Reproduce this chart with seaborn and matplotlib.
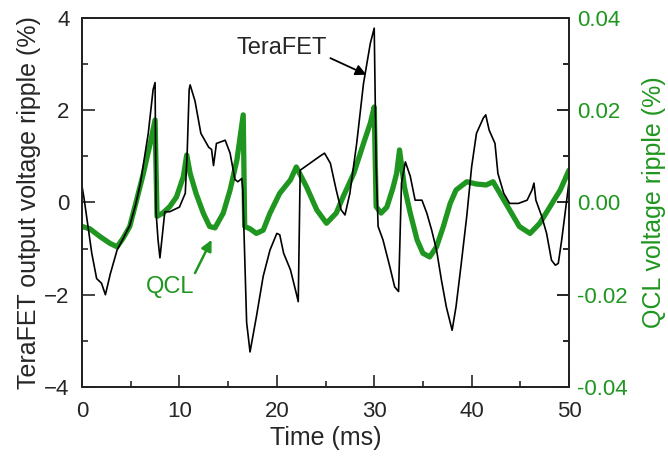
import numpy as np
import pandas as pd
import seaborn as sns
import matplotlib
matplotlib.use("Agg")
import matplotlib.pyplot as plt
from matplotlib.ticker import MultipleLocator, FormatStrFormatter

# TeraFET output voltage ripple (%) vs time (ms)
tera_time = [0.0, 0.2, 0.6, 1.0, 1.5, 2.0, 2.4, 2.9, 3.6, 4.3,
             4.9, 5.5, 6.0, 6.8, 7.3, 7.5, 7.6, 7.8, 8.0, 8.3,
             8.5, 9.0, 10.0, 10.6, 10.8, 11.0, 11.1, 11.6, 12.2, 13.0,
             13.3, 13.5, 13.8, 14.7, 15.2, 15.7, 16.0, 16.4, 16.5, 16.9,
             17.25, 17.9, 18.6, 19.3, 20.0, 20.3, 20.7, 21.4, 22.0, 22.2,
             22.4, 23.4, 24.4, 24.9, 25.5, 26.1, 26.6, 27.0, 27.5, 28.2,
             28.9, 29.6, 30.0, 30.2, 30.4, 30.9, 31.6, 32.1, 32.5, 32.8,
             33.2, 33.7, 34.2, 34.9, 35.4, 35.9, 36.4, 36.9, 37.4, 38.0,
             38.4, 38.9, 39.5, 40.0, 40.5, 41.2, 41.45, 41.8, 42.4, 42.7,
             43.3, 43.9, 44.8, 45.7, 46.2, 46.4, 46.6, 47.2, 47.7, 48.2,
             48.6, 48.9, 49.25, 49.6, 50.0]
tera_ripple = [0.35, 0.1, -0.5, -1.1, -1.65, -1.75, -2.0, -1.55, -1.03, -0.75,
               -0.5, -0.05, 0.42, 1.5, 2.45, 2.6, -0.2, -0.8, -1.2, -0.6,
               -0.2, -0.2, -0.1, 0.2, 1.1, 2.45, 2.55, 2.2, 1.5, 1.2,
               1.15, 0.8, 1.28, 1.35, 1.07, 0.5, 0.45, 0.52, 0.3, -2.6,
               -3.24, -2.48, -1.6, -1.03, -0.67, -0.7, -1.1, -1.46, -1.97, -2.15,
               0.7, 0.85, 1.0, 1.07, 0.85, 0.27, -0.16, -0.27, 0.2, 1.28,
               2.58, 3.45, 3.78, 0.77, -0.52, -0.81, -1.39, -1.83, -1.93, 0.42,
               0.88, 0.57, 0.05, 0.05, -0.23, -0.6, -1.03, -1.68, -2.26, -2.77,
               -2.26, -1.39, -0.3, 0.77, 1.5, 1.83, 1.9, 1.57, 1.28, 0.63,
               0.2, -0.02, -0.02, 0.05, 0.27, 0.42, 0.05, -0.3, -0.67, -1.25,
               -1.36, -1.32, -0.81, -0.23, 0.45]

# QCL voltage ripple (%) vs time (ms)
qcl_time = [0.0, 0.8, 1.85, 2.9, 3.6, 4.2, 4.9, 5.6, 6.3, 7.0,
            7.5, 7.7, 8.3, 9.0, 9.7, 10.4, 10.75, 11.1, 11.7, 12.45,
            13.1, 13.65, 14.5, 15.2, 15.9, 16.55, 16.7, 17.25, 17.9, 18.6,
            19.3, 20.3, 21.4, 22.0, 23.05, 24.1, 25.1, 26.1, 26.8, 27.9,
            28.9, 29.6, 30.0, 30.2, 30.7, 31.3, 31.9, 32.3, 32.6, 33.1,
            33.7, 34.4, 35.0, 35.7, 36.4, 37.1, 37.8, 38.4, 39.5, 40.5,
            41.5, 42.2, 42.9, 43.9, 44.9, 46.0, 47.0, 48.05, 49.1, 50.0]
qcl_ripple = [-0.0052, -0.0057, -0.0074, -0.0089, -0.0096, -0.0078, -0.0052, 0.0005, 0.0063, 0.0128,
              0.0179, -0.003, -0.0023, -0.0009, 0.0012, 0.0056, 0.0103, 0.0063, 0.002, -0.0023,
              -0.0052, -0.0055, -0.0023, 0.0027, 0.0092, 0.019, -0.0052, -0.0057, -0.0067, -0.006,
              -0.0023, 0.002, 0.0049, 0.0077, 0.0034, -0.0016, -0.0045, -0.0023, 0.0012, 0.0063,
              0.0128, 0.0172, 0.0207, -0.0009, -0.0023, -0.001, 0.003, 0.0063, 0.0114, 0.0034,
              -0.0023, -0.0081, -0.011, -0.0118, -0.0096, -0.0052, -0.0002, 0.0027, 0.0045, 0.004,
              0.0038, 0.0045, 0.002, -0.0016, -0.0052, -0.0067, -0.0045, -0.0009, 0.0027, 0.007]

green = "#1f961f"

sns.set_style("ticks")
plt.rcParams['font.family'] = ['Liberation Sans', 'DejaVu Sans']

tera_df = pd.DataFrame({"t": tera_time, "v": tera_ripple})
qcl_df = pd.DataFrame({"t": qcl_time, "v": qcl_ripple})

fig = plt.figure(figsize=(6.68, 4.57), dpi=100)
ax = fig.add_axes([0.1228, 0.1532, 0.729, 0.8074])
ax2 = ax.twinx()

sns.lineplot(data=qcl_df, x="t", y="v", ax=ax2, color=green, lw=3.8,
             estimator=None, sort=False)
sns.lineplot(data=tera_df, x="t", y="v", ax=ax, color="black", lw=1.2,
             estimator=None, sort=False)
# TeraFET trace sits on top of the QCL trace
ax.set_zorder(ax2.get_zorder() + 1)
ax.patch.set_visible(False)

ax.set_xlim(0, 50)
ax.set_ylim(-4, 4)
ax2.set_ylim(-0.04, 0.04)

ax.xaxis.set_major_locator(MultipleLocator(10))
ax.xaxis.set_minor_locator(MultipleLocator(5))
ax.yaxis.set_major_locator(MultipleLocator(2))
ax.yaxis.set_minor_locator(MultipleLocator(1))
ax2.yaxis.set_major_locator(MultipleLocator(0.02))
ax2.yaxis.set_minor_locator(MultipleLocator(0.01))
ax2.yaxis.set_major_formatter(FormatStrFormatter("%.2f"))

ax.tick_params(which="both", direction="in", labelsize=16, width=1.2)
ax.tick_params(axis="y", pad=9)
ax.tick_params(axis="x", pad=10)
ax.tick_params(which="major", length=9)
ax.tick_params(which="minor", length=4.5)
ax2.tick_params(which="both", direction="in", labelsize=16, width=1.2,
                labelcolor=green, color="black", pad=6)
ax2.tick_params(which="major", length=9)
ax2.tick_params(which="minor", length=4.5)

for a in (ax, ax2):
    for s in a.spines.values():
        s.set_linewidth(1.3)
        s.set_color("#222222")

ax.set_xlabel("Time (ms)", fontsize=18, labelpad=3)
ax.set_ylabel("TeraFET output voltage ripple (%)", fontsize=18, labelpad=2)
ax2.set_ylabel("QCL voltage ripple (%)", fontsize=18, color=green, labelpad=10)

ax.text(20.5, 3.35, "TeraFET", fontsize=17, ha="center", va="center")
ax.annotate("", xy=(29.2, 2.77), xytext=(25.5, 3.13),
            arrowprops=dict(arrowstyle="-|>", color="black", lw=1.3,
                            mutation_scale=16, shrinkA=0, shrinkB=0))
ax.text(9.0, -1.83, "QCL", fontsize=17, ha="center", va="center", color=green)
ax.annotate("", xy=(13.3, -0.81), xytext=(11.6, -1.53),
            arrowprops=dict(arrowstyle="-|>", color=green, lw=1.8,
                            mutation_scale=16, shrinkA=0, shrinkB=0))

fig.savefig("out.png", dpi=100)
